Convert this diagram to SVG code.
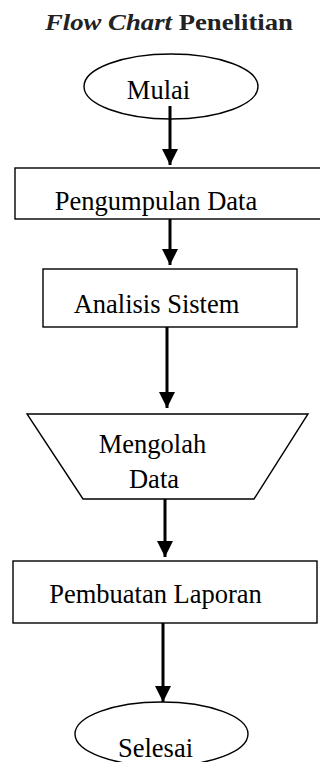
<svg xmlns="http://www.w3.org/2000/svg" width="320" height="762" viewBox="0 0 320 762">
<style>
.shape{fill:#fff;stroke:#000;stroke-width:1.4}
.t{font-family:"Liberation Serif","Times New Roman",serif;font-size:26.5px;fill:#000}
.title{font-family:"Liberation Serif","Times New Roman",serif;font-size:23px;font-weight:bold;fill:#222}
.conn line{stroke:#000;stroke-width:3}
</style>
<defs>
<marker id="ah" markerUnits="userSpaceOnUse" markerWidth="16" markerHeight="16" viewBox="0 0 16 16" refX="16" refY="8" orient="auto">
<path d="M0,0 L16,8 L0,16 Z" fill="#000"/>
</marker>
</defs>
<rect width="320" height="762" fill="#fff"/>
<text class="title" x="45" y="30" textLength="248" lengthAdjust="spacingAndGlyphs"><tspan font-style="italic">Flow Chart</tspan> Penelitian</text>
<g id="mulai">
<ellipse class="shape" cx="171" cy="86.5" rx="87" ry="32.5"/>
<text class="t" x="158.5" y="99" text-anchor="middle">Mulai</text>
</g>
<g id="pengumpulan">
<rect class="shape" x="15" y="168" width="310" height="51"/>
<text class="t" x="156" y="210" text-anchor="middle">Pengumpulan Data</text>
</g>
<g id="analisis">
<rect class="shape" x="43" y="269" width="254" height="58"/>
<text class="t" x="156.5" y="313" text-anchor="middle">Analisis Sistem</text>
</g>
<g id="mengolah">
<polygon class="shape" points="27,414 308,414 254,499 83,499"/>
<text class="t" x="152.5" y="453" text-anchor="middle">Mengolah</text>
<text class="t" x="154" y="488" text-anchor="middle">Data</text>
</g>
<g id="pembuatan">
<rect class="shape" x="13" y="561" width="304" height="62"/>
<text class="t" x="155.5" y="603" text-anchor="middle">Pembuatan Laporan</text>
</g>
<g id="selesai">
<ellipse class="shape" cx="161.5" cy="734" rx="86.5" ry="32"/>
<text class="t" x="155.5" y="757" text-anchor="middle">Selesai</text>
</g>
<g class="conn" id="connectors">
<line x1="170" y1="106" x2="170" y2="165" marker-end="url(#ah)"/>
<line x1="170" y1="219" x2="170" y2="265" marker-end="url(#ah)"/>
<line x1="167" y1="327" x2="167" y2="408" marker-end="url(#ah)"/>
<line x1="165" y1="499" x2="165" y2="557" marker-end="url(#ah)"/>
<line x1="163" y1="623" x2="163" y2="702" marker-end="url(#ah)"/>
</g>
</svg>
